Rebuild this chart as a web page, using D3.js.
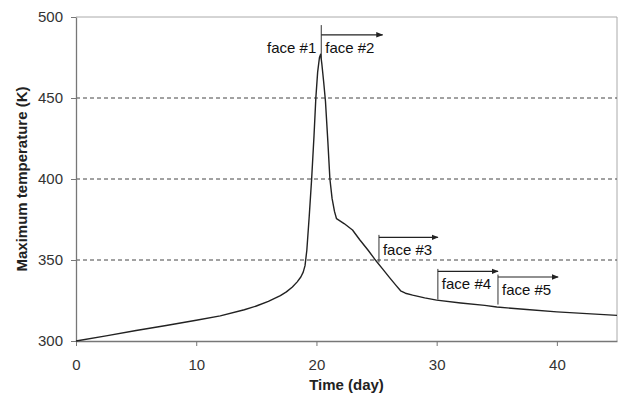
<!DOCTYPE html>
<html><head><meta charset="utf-8">
<script src="https://cdn.jsdelivr.net/npm/d3@7"></script>
<style>
body{margin:0;background:#fff;}
text{font-family:"Liberation Sans",Arial,sans-serif;}
</style></head><body>
<svg id="c" width="622" height="397"></svg>
<script>
// Data
const days = [0,2.5,5,7.5,10,12,14,15,16,17,17.5,18,18.4,18.7,18.9,19.05,19.2,19.4,19.6,19.8,19.95,20.1,20.25,20.35,20.45,20.6,20.75,20.95,21.12,21.3,21.5,21.67,22.3,23,23.6,24.3,24.85,25.5,26.1,26.6,27.0,27.4,28,29,30,32,34,35,37.5,40,42.5,45];
const temps = [300,303.2,306.5,309.6,312.8,315.5,319.3,321.6,324.5,328,330.3,333.3,336.5,339.5,342.5,346.5,356,377,400,427,450,466,475,477,471,460,448,423,400,388,380,375.5,372.5,368.5,362.5,356,350.5,344.5,339,334.5,331,329.5,328.3,326.6,325.2,323.5,322,321,319.4,318,316.9,315.8];
const xTicks = [0,10,20,30,40];
const yTicks = [300,350,400,450,500];
const gridTicks = [350,400,450];
const faceLabels = ["face #2","face #3","face #4","face #5"];
const faceStart = [20.4,25.2,30.1,35.1];
const faceEnd = [25.5,30.1,35.1,40.1];
const faceArrowT = [489,364,343,339.5];
const faceLineTop = [495,365.5,344.5,341];
const faceLineBottom = [474,348.5,325.5,322.5];

const W=622,H=397, m={l:76,r:5,t:17,b:56};
const svg=d3.select("#c");
const x=d3.scaleLinear().domain([0,45]).range([m.l,W-m.r]);
const y=d3.scaleLinear().domain([300,500]).range([H-m.b,m.t]);

// frame top/right
svg.append("line").attr("x1",x(0)).attr("x2",x(45)).attr("y1",y(500)).attr("y2",y(500)).attr("stroke","#aaa").attr("stroke-width",1);
svg.append("line").attr("x1",x(45)).attr("x2",x(45)).attr("y1",y(500)).attr("y2",y(300)).attr("stroke","#aaa").attr("stroke-width",1);

// grid
svg.append("g").selectAll("line").data(gridTicks).join("line")
 .attr("x1",x(0)).attr("x2",x(45)).attr("y1",d=>y(d)).attr("y2",d=>y(d))
 .attr("stroke","#444").attr("stroke-width",1).attr("stroke-dasharray","4,3");

// axes
const xa=svg.append("g").attr("transform",`translate(0,${y(300)})`)
 .call(d3.axisBottom(x).tickValues(xTicks).tickFormat(d3.format("d")).tickSize(5).tickSizeOuter(0).tickPadding(13));
const ya=svg.append("g").attr("transform",`translate(${x(0)},0)`)
 .call(d3.axisLeft(y).tickValues(yTicks).tickFormat(d3.format("d")).tickSize(5).tickSizeOuter(0).tickPadding(8));
[xa,ya].forEach(a=>{
  a.select(".domain").attr("stroke","#777").attr("stroke-width",1.3);
  a.selectAll(".tick line").attr("stroke","#777");
  a.selectAll(".tick text").attr("fill","#333").attr("font-size",15).attr("font-family","Liberation Sans, Arial, sans-serif");
});

// titles
svg.append("text").attr("x",(x(0)+x(45))/2).attr("y",390).attr("text-anchor","middle")
 .attr("font-size",15).attr("font-weight","bold").attr("fill","#222").text("Time (day)");
svg.append("text").attr("transform",`translate(27,${(y(300)+y(500))/2}) rotate(-90)`).attr("text-anchor","middle")
 .attr("font-size",15).attr("font-weight","bold").attr("fill","#222").text("Maximum temperature (K)");

// curve
const pts=days.map((d,i)=>[d,temps[i]]);
svg.append("path").datum(pts).attr("fill","none").attr("stroke","#222").attr("stroke-width",1.4)
 .attr("stroke-linejoin","round")
 .attr("d",d3.line().x(d=>x(d[0])).y(d=>y(d[1])));

// arrow marker
svg.append("defs").append("marker").attr("id","ah").attr("viewBox","0 0 10 10")
 .attr("refX",9).attr("refY",5).attr("markerWidth",7).attr("markerHeight",7).attr("markerUnits","userSpaceOnUse")
 .attr("orient","auto").append("path").attr("d","M0,1L10,5L0,9Z").attr("fill","#222");

// annotations
const ann=svg.append("g");
faceLabels.forEach((lab,i)=>{
  ann.append("line").attr("x1",x(faceStart[i])).attr("x2",x(faceStart[i]))
   .attr("y1",y(faceLineTop[i])).attr("y2",y(faceLineBottom[i])).attr("stroke","#333").attr("stroke-width",1);
  ann.append("line").attr("x1",x(faceStart[i])).attr("x2",x(faceEnd[i]))
   .attr("y1",y(faceArrowT[i])).attr("y2",y(faceArrowT[i])).attr("stroke","#222").attr("stroke-width",1.2)
   .attr("marker-end","url(#ah)");
  ann.append("text").attr("x",x(faceStart[i])+4).attr("y",y(faceArrowT[i])+18)
   .attr("font-size",15).attr("fill","#111").text(lab);
});
ann.append("text").attr("x",x(faceStart[0])-5).attr("y",y(faceArrowT[0])+18).attr("text-anchor","end")
 .attr("font-size",15).attr("fill","#111").text("face #1");
</script></body></html>
